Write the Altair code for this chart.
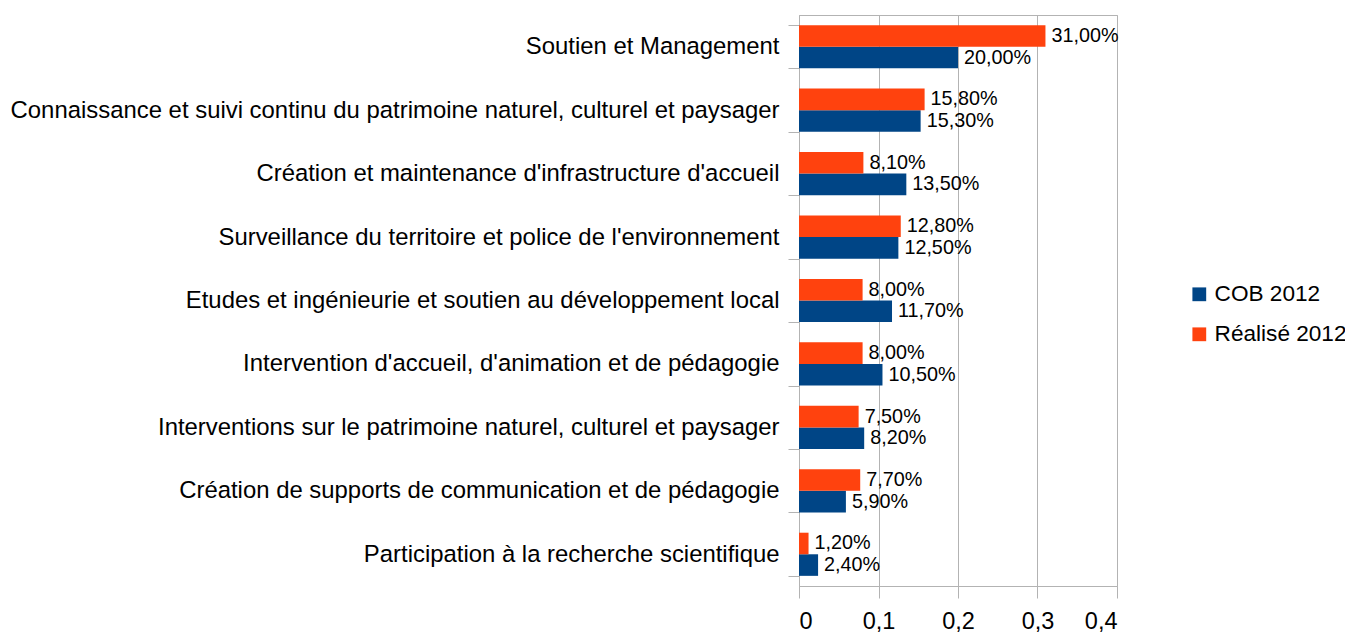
import altair as alt
import pandas as pd

categories = [
    "Soutien et Management\u00a0",
    "Connaissance et suivi continu du patrimoine naturel, culturel et paysager",
    "Création et maintenance d'infrastructure d'accueil",
    "Surveillance du territoire et police de l'environnement",
    "Etudes et ingénieurie et soutien au développement local",
    "Intervention d'accueil, d'animation et de pédagogie",
    "Interventions sur le patrimoine naturel, culturel et paysager",
    "Création de supports de communication et de pédagogie",
    "Participation à la recherche scientifique",
]
series = ["COB 2012", "Réalisé 2012"]
cob_2012 = [0.200, 0.153, 0.135, 0.125, 0.117, 0.105, 0.082, 0.059, 0.024]
realise_2012 = [0.310, 0.158, 0.081, 0.128, 0.080, 0.080, 0.075, 0.077, 0.012]
x_ticks = [0, 0.1, 0.2, 0.3, 0.4]
colors = ["#004586", "#ff420e"]

rows = []
for i, c in enumerate(categories):
    for s, vals in zip(series, [cob_2012, realise_2012]):
        v = vals[i]
        rows.append({
            "category": c,
            "series": s,
            "value": v,
            "label": f"{v * 100:.2f}%".replace(".", ","),
        })
df = pd.DataFrame(rows)

FONT = "Liberation Sans"
GRID = "#b3b3b3"

y_enc = alt.Y(
    "category:N",
    sort=categories,
    title=None,
    scale=alt.Scale(paddingInner=0.32, paddingOuter=0.16),
    axis=alt.Axis(
        labelFont=FONT, labelFontSize=23.9, labelColor="#000000",
        labelPadding=9, labelLimit=1000,
        tickBand="extent", tickSize=11, tickColor=GRID,
        domainColor=GRID, grid=False,
    ),
)
yoff_enc = alt.YOffset("series:N", sort=["Réalisé 2012", "COB 2012"],
                       scale=alt.Scale(paddingInner=0, paddingOuter=0))
x_enc = alt.X(
    "value:Q",
    title=None,
    scale=alt.Scale(domain=[0, 0.4], nice=False),
    axis=alt.Axis(
        values=x_ticks,
        labelExpr="replace(toString(datum.value), '.', ',')",
        labelFont=FONT, labelFontSize=23.5, labelColor="#000000",
        labelPadding=11, tickSize=12, tickColor=GRID,
        domainColor=GRID, grid=True, gridColor=GRID,
    ),
)

bars = alt.Chart(df).mark_bar().encode(
    y=y_enc,
    yOffset=yoff_enc,
    x=x_enc,
    color=alt.Color(
        "series:N",
        scale=alt.Scale(domain=series, range=colors),
        legend=alt.Legend(
            title=None, orient="none", legendX=389, legendY=268,
            symbolType="square", symbolSize=190, symbolStrokeWidth=0,
            labelFont=FONT, labelFontSize=22.6, labelColor="#000000",
            labelOffset=4, labelLimit=300, rowPadding=17,
        ),
    ),
)

labels = alt.Chart(df).mark_text(
    align="left", baseline="middle", dx=6, font=FONT, fontSize=19.8, color="#000000"
).encode(
    y=alt.Y("category:N", sort=categories),
    yOffset=yoff_enc,
    x=alt.X("value:Q"),
    text="label:N",
)

chart = (
    alt.layer(bars, labels)
    .properties(
        width=318,
        height=571,
        autosize=alt.AutoSizeParams(type="none"),
        padding={"left": 791, "top": 7, "right": 228, "bottom": 46},
        background="#ffffff",
    )
    .configure_view(stroke=GRID)
)

chart.save("out.html", embed_options={"renderer": "svg", "actions": False})
